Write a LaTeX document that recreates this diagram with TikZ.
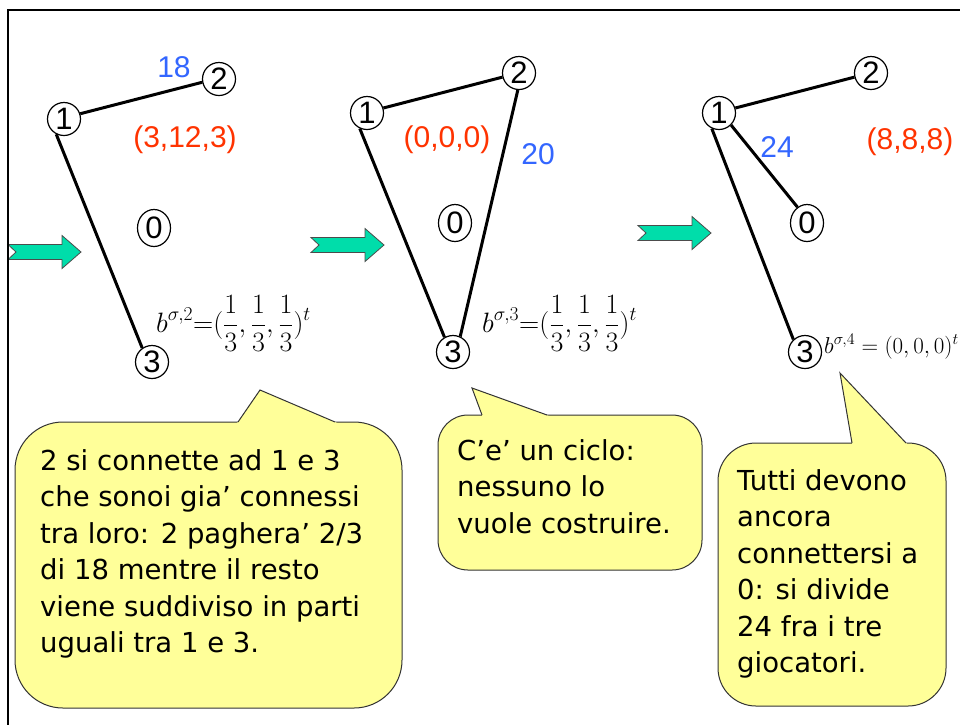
\RequirePackage{fix-cm}
\documentclass[tikz,border=0pt]{standalone}
\usepackage{fontspec}
\usetikzlibrary{shapes.geometric}
\newfontfamily\arialf{Liberation Sans}
\newfontfamily\verdf{DejaVu Sans}
\definecolor{lblblue}{RGB}{51,102,255}
\definecolor{lblred}{RGB}{255,51,0}
\definecolor{arrowgreen}{RGB}{0,221,170}
\definecolor{calloutyellow}{RGB}{255,255,153}
\begin{document}
\begin{tikzpicture}[x=1pt,y=-1pt,
  vtx/.style={circle, draw, line width=1.2pt, minimum size=33pt, inner sep=0pt, fill=white,
    font=\arialf\fontsize{31}{32}\selectfont},
  vtxz/.style={ellipse, draw, line width=1.2pt, minimum width=33pt, minimum height=37pt, inner sep=0pt, fill=white,
    font=\arialf\fontsize{31}{32}\selectfont},
  lnk/.style={line width=3pt},
  lbl/.style={inner sep=0pt, font=\arialf\fontsize{30}{32}\selectfont},
  cost/.style={lbl, text=lblblue},
  pay/.style={lbl, text=lblred},
  formula/.style={anchor=base west, inner sep=0pt, font=\fontsize{28}{30}\selectfont},
  smallformula/.style={anchor=base west, inner sep=0pt, font=\fontsize{23}{24}\selectfont},
  callout/.style={fill=calloutyellow, draw=black!80, line width=1pt},
  calloutside/.style={draw=black!80, line width=1pt, line join=miter},
  ctext/.style={anchor=base west, inner sep=0pt, font=\verdf\fontsize{27.5}{36.5}\selectfont},
  garrow/.pic={\draw[fill=arrowgreen, draw=black!70, line width=0.8pt]
     (0,-7.5) -- (54,-7.5) -- (54,-16.5) -- (73,0) -- (54,16.5) -- (54,7.5) -- (0,7.5) -- (8,0) -- cycle;}
]
\useasboundingbox[fill=white] (0,0) rectangle (960,724);

% green arrows
\pic at (8,252) {garrow};
\pic at (311,245) {garrow};
\pic at (638,233) {garrow};

% frame
\draw[line width=2pt] (8,740) -- (8,10) -- (980,10);

% ---------- panel 1
\node[vtx]  (a1) at (64,119) {1};
\node[vtx]  (a2) at (219,79) {2};
\node[vtxz] (a0) at (154,228) {0};
\node[vtx]  (a3) at (152,362) {3};
\draw[lnk] (a1.18) -- (a2.191);
\draw[lnk] (a1.243) -- (a3.125);
\node[cost] (a18) at (174,67) {18};
\node[pay]  (apay) at (185,140) {(3,12,3)};
\node[formula] (af) at (156,332) {$\displaystyle b^{\sigma,2}{=}(\frac{1}{3},\frac{1}{3},\frac{1}{3})^t$};

% ---------- panel 2
\node[vtx]  (b1) at (367,113) {1};
\node[vtx]  (b2) at (519,73) {2};
\node[vtxz] (b0) at (455,223) {0};
\node[vtx]  (b3) at (453,352) {3};
\draw[lnk] (b1.17) -- (b2.194);
\draw[lnk] (b1.245) -- (b3.120);
\draw[lnk] (b2.266) -- (b3.65);
\node[pay]  (bpay) at (447,140) {(0,0,0)};
\node[cost] (b20) at (538,154) {20};
\node[formula] (bf) at (482,332) {$\displaystyle b^{\sigma,3}{=}(\frac{1}{3},\frac{1}{3},\frac{1}{3})^t$};

% ---------- panel 3
\node[vtx]  (c1) at (719,113) {1};
\node[vtx]  (c2) at (871,73) {2};
\node[vtxz] (c0) at (807,223) {0};
\node[vtx]  (c3) at (805,352) {3};
\draw[lnk] (c1.17) -- (c2.194);
\draw[lnk] (c1.315) -- (c0.121);
\draw[lnk] (c1.245) -- (c3.133);
\node[cost] (c24) at (777,147) {24};
\node[pay]  (cpay) at (910,142) {(8,8,8)};
\node[smallformula] (cf) at (824,353) {$b^{\sigma,4} = (0,0,0)^t$};

% ---------- callout 1
\draw[callout, rounded corners=48] (15,422) rectangle (402,708);
\fill[calloutyellow] (236.5,424) -- (260,390) -- (339.5,424) -- cycle;
\draw[calloutside] (238,422) -- (260,390) -- (335,422);
\node[ctext] (t1) at (40,470) {\parbox[t]{380pt}{\raggedright
2 si connette ad 1 e 3\\
che sonoi gia’ connessi\\
tra loro: 2 paghera’ 2/3\\
di 18 mentre il resto\\
viene suddiviso in parti\\
uguali tra 1 e 3.}};

% ---------- callout 2
\draw[callout, rounded corners=30] (438,415) rectangle (702,570);
\fill[calloutyellow] (482.7,417) -- (472,388) -- (551.5,417) -- cycle;
\draw[calloutside] (482,415) -- (472,388) -- (547,415);
\node[ctext] (t2) at (457,460) {\parbox[t]{250pt}{\raggedright
C’e’ un ciclo:\\
nessuno lo\\
vuole costruire.}};

% ---------- callout 3
\draw[callout, rounded corners=38] (718,443) rectangle (946,706);
\fill[calloutyellow] (852.4,445) -- (840,373) -- (908,445) -- cycle;
\draw[calloutside] (852,443) -- (840,373) -- (906,443);
\node[ctext] (t3) at (737,490) {\parbox[t]{220pt}{\raggedright
Tutti devono\\
ancora\\
connettersi a\\
0: si divide\\
24 fra i tre\\
giocatori.}};
\end{tikzpicture}
\end{document}
